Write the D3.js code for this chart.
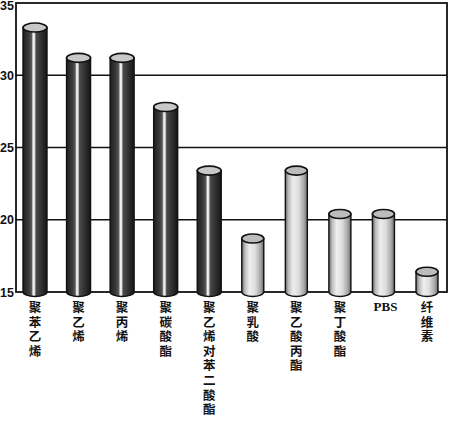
<!DOCTYPE html>
<html>
<head>
<meta charset="utf-8">
<script src="https://cdn.jsdelivr.net/npm/d3@7"></script>
<style>
  body { margin: 0; background: #fff; }
  svg { display: block; }
</style>
</head>
<body>
<svg id="chart" width="450" height="421"></svg>
<script>
// data
var materials = ['聚苯乙烯', '聚乙烯', '聚丙烯', '聚碳酸酯', '聚乙烯对苯二酸酯', '聚乳酸', '聚乙酸丙酯', '聚丁酸酯', 'PBS', '纤维素'];
var values = [33.3, 31.2, 31.2, 27.8, 23.4, 18.7, 23.4, 20.4, 20.4, 16.4];
// 1 = dark cylinder, 0 = light cylinder
var darkBars = [1, 1, 1, 1, 1, 0, 0, 0, 0, 0];
var yTicks = [15, 20, 25, 30, 35];

var svg = d3.select('#chart');
var plotLeft = 16, plotRight = 447, plotTop = 3, plotBottom = 292;

var x = d3.scalePoint().domain(materials).range([35, 427]);
var y = d3.scaleLinear().domain([15, 35]).range([plotBottom, plotTop]);

var defs = svg.append('defs');
var gDark = defs.append('linearGradient').attr('id', 'darkGrad');
[[0, '#1e1e1e'], [0.25, '#3c3c3c'], [0.36, '#5a5a5a'], [0.42, '#f4f4f4'], [0.48, '#e0e0e0'], [0.54, '#4a4a4a'], [0.8, '#2c2c2c'], [1, '#161616']]
  .forEach(function(s) { gDark.append('stop').attr('offset', s[0]).attr('stop-color', s[1]); });
var gLight = defs.append('linearGradient').attr('id', 'lightGrad');
[[0, '#6e6e6e'], [0.15, '#bdbdbd'], [0.35, '#eeeeee'], [0.6, '#dedede'], [0.85, '#a8a8a8'], [1, '#6a6a6a']]
  .forEach(function(s) { gLight.append('stop').attr('offset', s[0]).attr('stop-color', s[1]); });

// grid lines
svg.append('g').selectAll('line').data(yTicks.slice(1, 4)).join('line')
  .attr('x1', plotLeft).attr('x2', plotRight)
  .attr('y1', function(d) { return y(d); }).attr('y2', function(d) { return y(d); })
  .attr('stroke', '#111').attr('stroke-width', 1.6);

// frame
svg.append('rect').attr('x', plotLeft).attr('y', plotTop)
  .attr('width', plotRight - plotLeft).attr('height', plotBottom - plotTop)
  .attr('fill', 'none').attr('stroke', '#111').attr('stroke-width', 1.8);

// y axis labels
var yAxis = d3.axisLeft(y).tickValues(yTicks).tickSize(0).tickPadding(2);
var ya = svg.append('g').attr('transform', 'translate(' + plotLeft + ',0)').call(yAxis);
ya.select('.domain').remove();
ya.selectAll('text').attr('font-family', 'Liberation Sans, Arial, sans-serif')
  .attr('font-size', 12.5).attr('font-weight', 'bold').attr('fill', '#111')
  .attr('dy', function(d) { return d === 35 ? '0.55em' : '0.32em'; });

// cylinders
var ry = 4.5;
var bars = svg.append('g').selectAll('g').data(materials).join('g');
bars.each(function(d, i) {
  var g = d3.select(this);
  var dark = darkBars[i] === 1;
  var w = dark ? 24 : 22;
  var cx = x(d), yt = y(values[i]), yb = y(15);
  var x0 = cx - w / 2, x1 = cx + w / 2;
  var body = 'M' + x0 + ',' + yt + 'L' + x0 + ',' + yb +
    'A' + (w / 2) + ',' + ry + ' 0 0 0 ' + x1 + ',' + yb +
    'L' + x1 + ',' + yt + 'Z';
  g.append('path').attr('d', body)
    .attr('fill', dark ? 'url(#darkGrad)' : 'url(#lightGrad)')
    .attr('stroke', '#111').attr('stroke-width', 1.4);
  g.append('ellipse').attr('cx', cx).attr('cy', yt).attr('rx', w / 2).attr('ry', ry)
    .attr('fill', dark ? '#c8c8c8' : '#bcbcbc')
    .attr('stroke', '#111').attr('stroke-width', 1.6);
});

// category labels, written top to bottom, one character per line
var labels = svg.append('g').selectAll('g').data(materials).join('g');
labels.each(function(d) {
  var g = d3.select(this);
  if (d === 'PBS') {
    g.append('text').attr('x', x(d) + 2).attr('y', 311)
      .attr('text-anchor', 'middle').attr('fill', '#111').attr('font-weight', 'bold')
      .attr('font-family', 'Liberation Serif, Times New Roman, serif')
      .attr('font-size', 13).text(d);
    return;
  }
  g.selectAll('text').data(d.split('')).join('text')
    .attr('x', x(d))
    .attr('y', function(ch, k) { return 312 + k * 14.6; })
    .attr('text-anchor', 'middle').attr('fill', '#111').attr('font-weight', 'bold')
    .attr('font-family', 'Noto Sans CJK SC, sans-serif').attr('font-size', 12.5)
    .text(function(ch) { return ch; });
});
</script>
</body>
</html>
